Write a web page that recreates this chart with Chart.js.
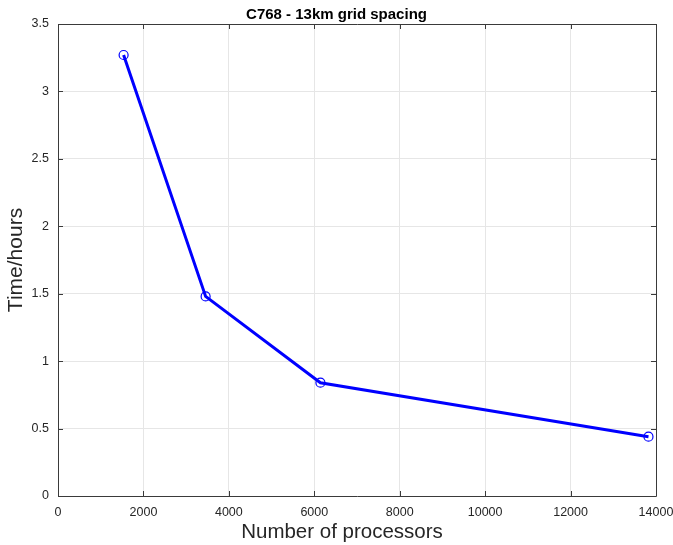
<!DOCTYPE html>
<html>
<head>
<meta charset="utf-8">
<script src="https://cdn.jsdelivr.net/npm/chart.js@4/dist/chart.umd.min.js"></script>
<style>
  html, body { margin: 0; padding: 0; background: #ffffff; }
  #wrap { width: 673px; height: 545px; }
</style>
</head>
<body>
<div id="wrap"><canvas id="scaling"></canvas></div>
<script>
// Processor counts and wall-clock time for the C768 run
const processors = [1536, 3456, 6144, 13824];
const hours = [3.27, 1.48, 0.84, 0.44];

const xTicks = [0, 2000, 4000, 6000, 8000, 10000, 12000, 14000];
const yTicks = [0, 0.5, 1, 1.5, 2, 2.5, 3, 3.5];

const xLabel = 'Number of processors';

const fontFamily = "'Liberation Sans', Arial, Helvetica, sans-serif";
const axisColor = '#262626';

// Box around the plot area plus short inward tick marks on all four sides
const boxPlugin = {
  id: 'box',
  afterDraw(chart) {
    const { ctx, chartArea: a, scales } = chart;
    const len = 5;
    ctx.save();
    ctx.strokeStyle = '#3a3a3a';
    ctx.lineWidth = 1;
    ctx.beginPath();
    ctx.rect(Math.round(a.left) + 0.5, Math.round(a.top) + 0.5,
             Math.round(a.right - a.left), Math.round(a.bottom - a.top));
    scales.x.ticks.forEach(t => {
      const px = Math.round(scales.x.getPixelForValue(t.value)) + 0.5;
      ctx.moveTo(px, a.bottom); ctx.lineTo(px, a.bottom - len);
      ctx.moveTo(px, a.top); ctx.lineTo(px, a.top + len);
    });
    scales.y.ticks.forEach(t => {
      const py = Math.round(scales.y.getPixelForValue(t.value)) + 0.5;
      ctx.moveTo(a.left, py); ctx.lineTo(a.left + len, py);
      ctx.moveTo(a.right, py); ctx.lineTo(a.right - len, py);
    });
    ctx.stroke();

    // x-axis caption, sitting a little left of the plot centre
    ctx.fillStyle = axisColor;
    ctx.font = `20.5px ${fontFamily}`;
    ctx.textAlign = 'center';
    ctx.textBaseline = 'middle';
    ctx.fillText(xLabel, (a.left + a.right) / 2 - 15, 532);
    ctx.restore();
  }
};

const ctx = document.getElementById('scaling').getContext('2d');
new Chart(ctx, {
  type: 'scatter',
  data: {
    datasets: [{
      label: 'C768',
      data: processors.map((p, i) => ({ x: p, y: hours[i] })),
      showLine: true,
      borderColor: '#0000ff',
      borderWidth: 3,
      pointStyle: 'circle',
      pointRadius: 4.5,
      pointBorderWidth: 1.2,
      pointBorderColor: '#0000ff',
      pointBackgroundColor: 'rgba(0,0,0,0)'
    }]
  },
  options: {
    responsive: true,
    maintainAspectRatio: false,
    animation: false,
    layout: { padding: { left: 0, right: 0, top: 0, bottom: 0 } },
    plugins: {
      legend: { display: false },
      tooltip: { enabled: false },
      title: {
        display: true,
        text: 'C768 - 13km grid spacing',
        color: '#000000',
        font: { family: fontFamily, size: 15, weight: 'bold' },
        padding: { top: 6, bottom: 0 }
      }
    },
    scales: {
      x: {
        type: 'linear',
        min: 0,
        max: 14000,
        afterBuildTicks: s => { s.ticks = xTicks.map(v => ({ value: v })); },
        afterFit: s => {
          s.height = 49;
          s.paddingLeft = 0;
          s.paddingRight = 17;
        },
        border: { display: false },
        grid: { color: '#e6e6e6', drawTicks: false },
        ticks: {
          color: axisColor,
          padding: 9,
          font: { family: fontFamily, size: 12.5 },
          callback: v => String(v)
        },
        title: { display: false }
      },
      y: {
        type: 'linear',
        min: 0,
        max: 3.5,
        afterBuildTicks: s => { s.ticks = yTicks.map(v => ({ value: v })); },
        afterFit: s => {
          s.width = 58;
          s.paddingTop = 0;
          s.paddingBottom = 0;
        },
        border: { display: false },
        grid: { color: '#e6e6e6', drawTicks: false },
        ticks: {
          color: axisColor,
          padding: 9,
          font: { family: fontFamily, size: 12.5 },
          callback: v => String(v)
        },
        title: {
          display: true,
          text: 'Time/hours',
          color: axisColor,
          font: { family: fontFamily, size: 21 },
          padding: { top: 4, bottom: 0 }
        }
      }
    }
  },
  plugins: [boxPlugin]
});
</script>
</body>
</html>
